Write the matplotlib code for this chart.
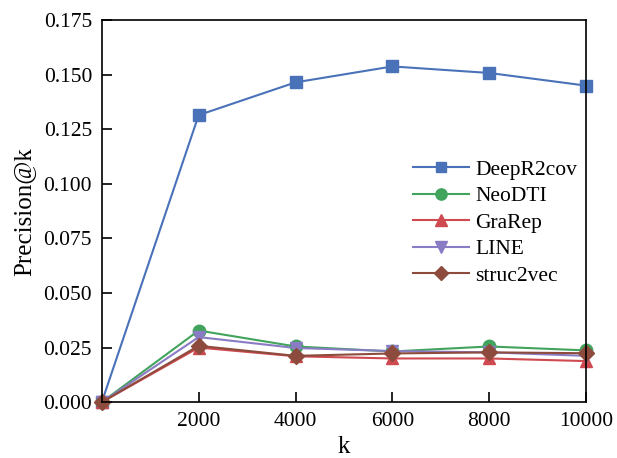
import matplotlib
matplotlib.use("Agg")
import matplotlib.pyplot as plt

plt.rcParams['font.family'] = ['Liberation Serif', 'DejaVu Serif']

k = [0, 2000, 4000, 6000, 8000, 10000]
deepr2cov = [0.0, 0.1315, 0.1465, 0.1538, 0.1508, 0.1450]
neodti = [0.0, 0.0328, 0.0255, 0.0232, 0.0255, 0.0237]
grarep = [0.0, 0.0250, 0.0210, 0.0200, 0.0200, 0.0188]
line = [0.0, 0.0298, 0.0248, 0.0234, 0.0228, 0.0212]
struc2vec = [0.0, 0.0258, 0.0212, 0.0223, 0.0228, 0.0224]

fig = plt.figure(figsize=(6.17, 4.58), dpi=100)
ax = fig.add_axes([0.165, 0.122, 0.785, 0.834])

ax.plot(k, deepr2cov, color='#4a72b8', marker='s', ms=8, lw=1.5, label='DeepR2cov', clip_on=False)
ax.plot(k, neodti, color='#41a35c', marker='o', ms=9, lw=1.5, label='NeoDTI', clip_on=False)
ax.plot(k, grarep, color='#cf4a50', marker='^', ms=9, lw=1.5, label='GraRep', clip_on=False)
ax.plot(k, line, color='#8a7cc4', marker='v', ms=9, lw=1.5, label='LINE', clip_on=False)
ax.plot(k, struc2vec, color='#8c4b3d', marker='D', ms=8, lw=1.5, label='struc2vec', clip_on=False)

ax.set_xlim(0, 10000)
ax.set_ylim(0, 0.175)
ax.set_xticks([2000, 4000, 6000, 8000, 10000])
ax.set_yticks([0, 0.025, 0.05, 0.075, 0.1, 0.125, 0.15, 0.175])
ax.set_yticklabels(['%.3f' % v for v in ax.get_yticks()])
ax.tick_params(direction='in', labelsize=15.5, length=7, width=1.2, pad=7,
               top=False, right=False)
for s in ax.spines.values():
    s.set_linewidth(1.2)

ax.set_xlabel('k', fontsize=18, labelpad=4)
ax.set_ylabel('Precision@k', fontsize=18, labelpad=6)

ax.legend(loc='center right', bbox_to_anchor=(1.022, 0.47), frameon=False, fontsize=15.5,
          handlelength=2.6, labelspacing=0.3, handletextpad=0.3, markerscale=0.9)

fig.savefig('out.png', dpi=100)
